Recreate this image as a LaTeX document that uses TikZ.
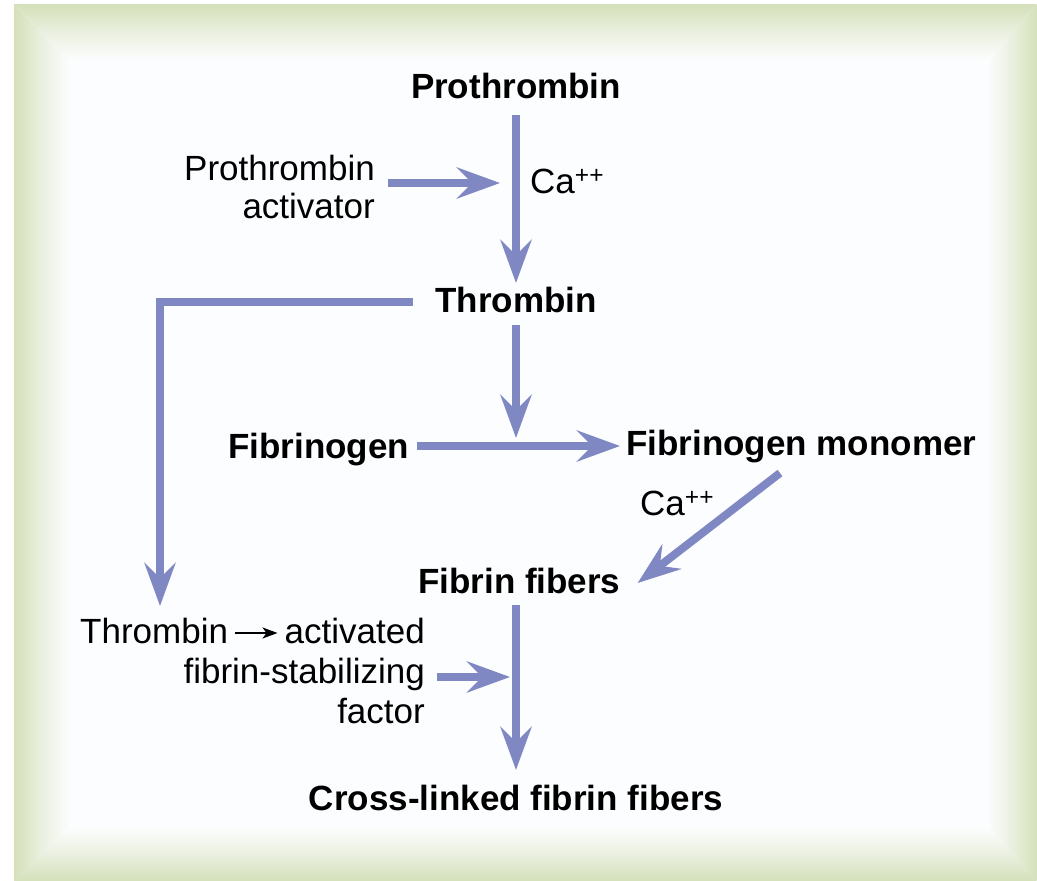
\documentclass[tikz,border=0pt]{standalone}
\usepackage{fontspec}
\setmainfont{Liberation Sans}
\usetikzlibrary{arrows.meta,calc}
\definecolor{arrowc}{RGB}{128,136,196}
\definecolor{frameg}{RGB}{212,224,186}
\definecolor{innerw}{RGB}{252,253,254}
\begin{document}
\begin{tikzpicture}[x=1pt,y=-1pt,
  every node/.style={inner sep=0pt},
  lbl/.style={font=\fontsize{35}{40}\selectfont},
  bold/.style={font=\fontsize{35}{40}\selectfont\bfseries},
  flow/.style={draw=arrowc,line width=8pt,-{Stealth[length=43pt,width=31pt,inset=15pt]}},
  thin arrow/.style={draw=black,line width=2.2pt,-{Stealth[length=15pt,width=11pt,inset=4pt]}}]
\useasboundingbox (0,0) rectangle (1037,881);
% background frame
\fill[white] (0,0) rectangle (1037,881);
\fill[innerw] (70,60) rectangle (987,827);
\shade[top color=frameg,bottom color=innerw,middle color=frameg!45!innerw]
  (14,4) -- (1037,4) -- (987,60) -- (70,60) -- cycle;
\shade[top color=innerw,bottom color=frameg,middle color=frameg!45!innerw]
  (14,881) -- (1037,881) -- (987,827) -- (70,827) -- cycle;
\shade[left color=frameg,right color=innerw,middle color=frameg!45!innerw]
  (14,4) -- (70,60) -- (70,827) -- (14,881) -- cycle;
\shade[left color=innerw,right color=frameg,middle color=frameg!45!innerw]
  (1037,4) -- (987,60) -- (987,827) -- (1037,881) -- cycle;
% nodes
\node[bold,anchor=base] (proth) at (516,98) {Prothrombin};
\node[lbl,anchor=base east] (pa1) at (375,180) {Prothrombin};
\node[lbl,anchor=base east] (pa2) at (375,218) {activator};
\node[lbl,anchor=base west] (ca1) at (530,193) {Ca\textsuperscript{++}};
\node[bold,anchor=base] (thromb) at (516,312) {Thrombin};
\node[bold,anchor=base west] (fgen) at (228,458) {Fibrinogen};
\node[bold,anchor=base west] (fmono) at (626,455) {Fibrinogen monomer};
\node[lbl,anchor=base west] (ca2) at (640,515) {Ca\textsuperscript{++}};
\node[bold,anchor=base west] (ffib) at (418,593) {Fibrin fibers};
\node[lbl,anchor=base west] (thr2) at (80,643) {Thrombin};
\node[lbl,anchor=base east] (act) at (425,643) {activated};
\node[lbl,anchor=base east] (fsf) at (425,683) {fibrin-stabilizing};
\node[lbl,anchor=base east] (fac) at (425,723) {factor};
\node[bold,anchor=base] (cross) at (516,810) {Cross-linked fibrin fibers};
\coordinate (j1) at (516,183);
\coordinate (j2) at (516,446);
% connectors
\draw[flow] ($(proth.base)+(0,17)$) -- ($(thromb.base)+(0,-29)$);
\draw[flow] ($(pa1.base east)+(13,3)$) -- ($(j1)+(-16,0)$);
\draw[flow] ($(thromb.base west)+(-22,-10)$) -| ($(thr2.base west)+(80,-37)$);
\draw[flow] ($(thromb.base)+(0,13)$) -- ($(j2)+(0,-8)$);
\draw[flow] ($(fgen.base east)+(8,-12)$) -- ($(fmono.base west)+(-6,-9)$);
\draw[flow] ($(fmono.base west)+(154,18)$) -- ($(ffib.base east)+(17,-10)$);
\draw[flow] ($(cross.base |- ffib.base)+(0,12)$) -- ($(cross.base)+(0,-40)$);
\draw[flow] ($(fsf.base east)+(12,-6)$) -- ($(cross.base |- fsf.base)+(-6,-6)$);
\draw[thin arrow] ($(thr2.base east)+(7,-10)$) -- ($(act.base west)+(-7,-10)$);
\end{tikzpicture}
\end{document}
